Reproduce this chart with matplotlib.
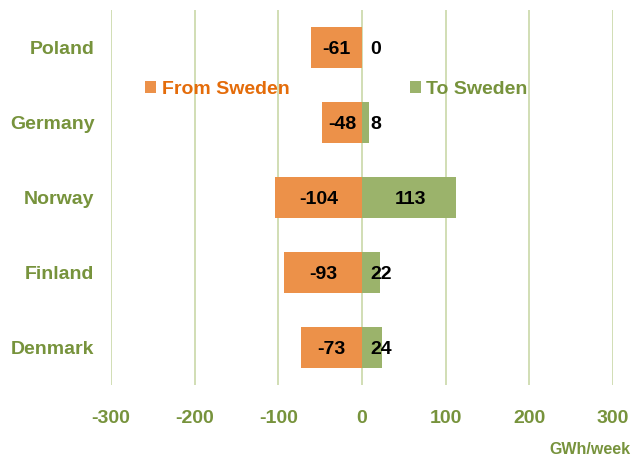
import numpy as np
import matplotlib.pyplot as plt

countries = ['Poland', 'Germany', 'Norway', 'Finland', 'Denmark']
from_sweden = [-61, -48, -104, -93, -73]
to_sweden = [0, 8, 113, 22, 24]
xticks = [-300, -200, -100, 0, 100, 200, 300]

orange = '#EC9149'
green = '#9BB36B'
txt_orange = '#E46C0A'
txt_green = '#77933C'
grid_col = '#C9D8A8'

plt.rcParams['font.family'] = ['Liberation Sans', 'DejaVu Sans']

fig = plt.figure(figsize=(6.35, 4.59), dpi=100)
ax = fig.add_axes([0.175, 0.161, 0.79, 0.817])

y = np.arange(len(countries))
ax.barh(y, from_sweden, height=0.55, color=orange, label='From Sweden', zorder=2)
ax.barh(y, to_sweden, height=0.55, color=green, label='To Sweden', zorder=2)

for i in range(len(countries)):
    ax.text(from_sweden[i] / 2, y[i] + 0.02, str(from_sweden[i]), ha='center', va='center',
            fontsize=14, fontweight='bold', color='black', zorder=3)
    v = to_sweden[i]
    if v > 40:
        ax.text(v / 2 + 2, y[i] + 0.02, str(v), ha='center', va='center',
                fontsize=14, fontweight='bold', color='black', zorder=3)
    else:
        ax.text(10, y[i] + 0.02, str(v), ha='left', va='center',
                fontsize=14, fontweight='bold', color='black', zorder=3)

ax.set_xlim(-300, 300)
ax.set_ylim(len(countries) - 0.5, -0.5)
ax.set_xticks(xticks)
ax.set_xticklabels([str(t) for t in xticks])
ax.set_yticks(y)
ax.set_yticklabels(countries)
ax.tick_params(axis='x', length=0, pad=18, labelsize=14, labelcolor=txt_green)
ax.tick_params(axis='y', length=0, pad=12, labelsize=14, labelcolor=txt_green)
for lab in ax.get_xticklabels() + ax.get_yticklabels():
    lab.set_fontweight('bold')

ax.grid(axis='x', color=grid_col, linewidth=1.2, zorder=0)
ax.set_axisbelow(True)
for s in ax.spines.values():
    s.set_visible(False)

leg = ax.legend(loc='center', bbox_to_anchor=(0.449, 0.788), ncol=2, frameon=False,
                prop={'size': 14, 'weight': 'bold'}, handlelength=0.55, handleheight=0.55,
                handletextpad=0.3, columnspacing=6.2, borderpad=0)
leg.get_texts()[0].set_color(txt_orange)
leg.get_texts()[1].set_color(txt_green)

fig.text(0.993, 0.005, 'GWh/week', ha='right', va='bottom', fontsize=11.5,
         fontweight='bold', color=txt_green)

fig.savefig('out.png', dpi=100)
